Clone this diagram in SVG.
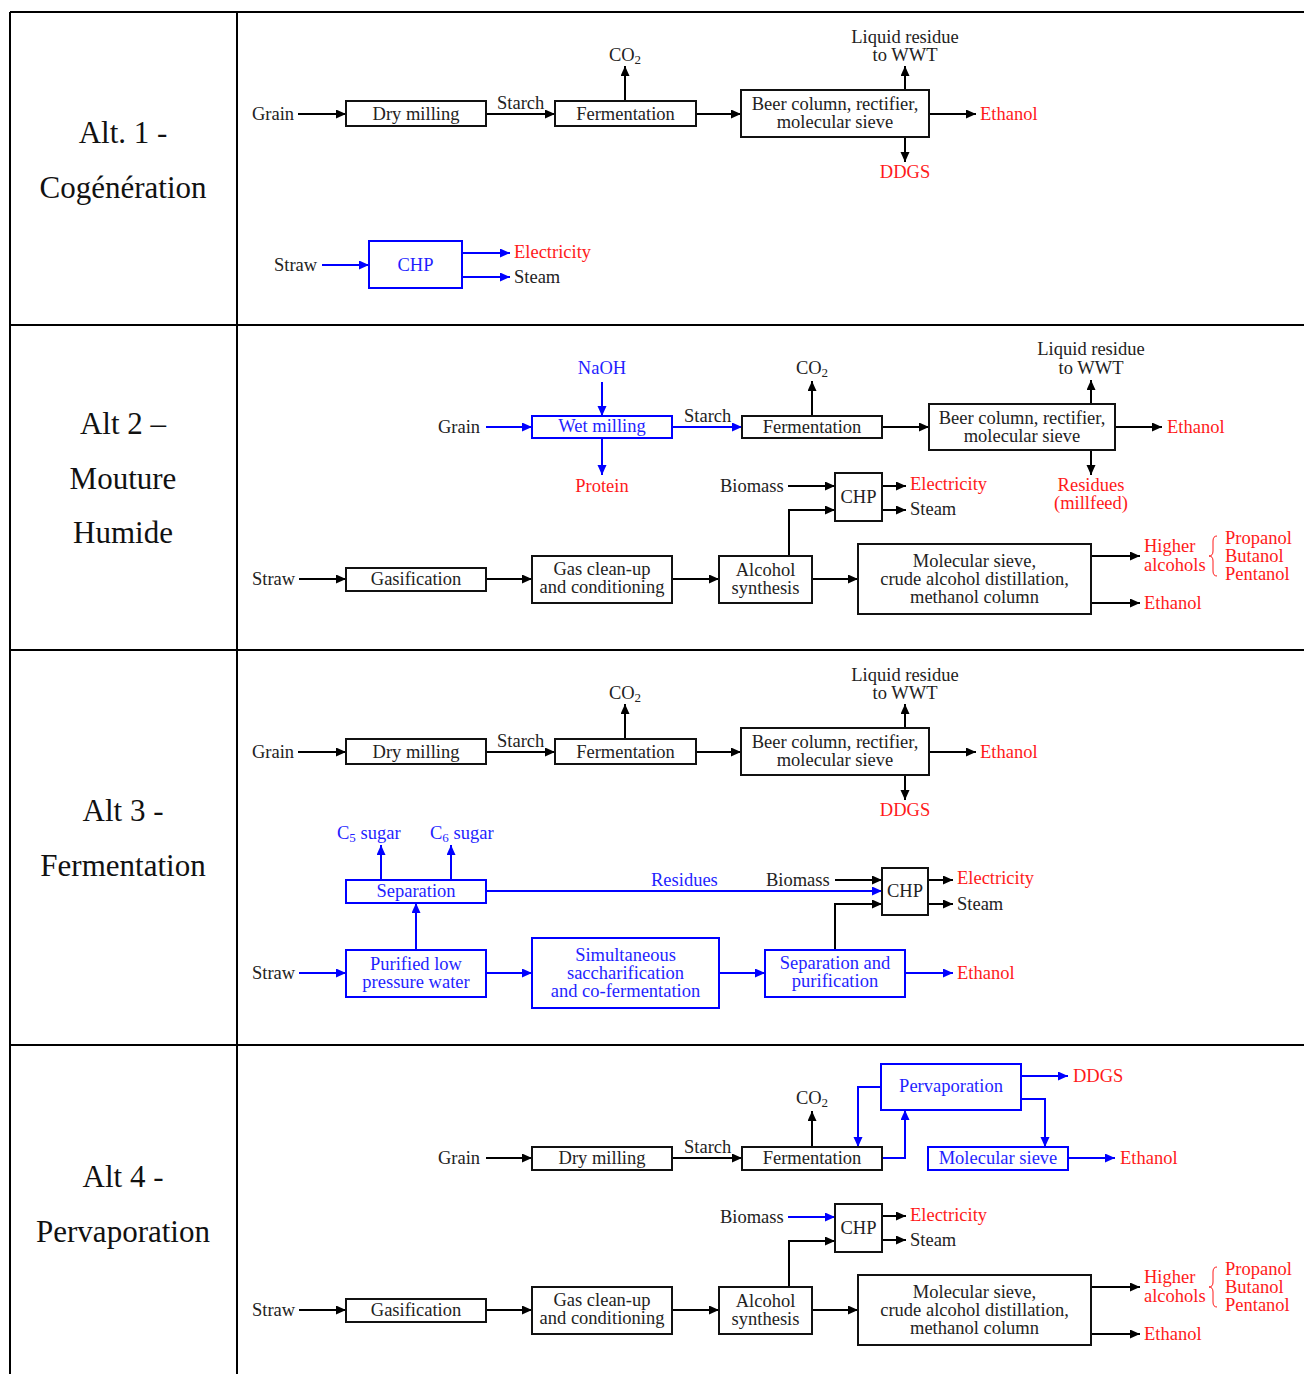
<svg xmlns="http://www.w3.org/2000/svg" width="1304" height="1374" viewBox="0 0 1304 1374">
<style>
.grid{stroke:#000;stroke-width:2;fill:none}
.lbl{font-family:"Liberation Serif","Times New Roman",serif;font-size:31px;fill:#111;text-anchor:middle}
.t{font-family:"Liberation Serif","Times New Roman",serif;font-size:18.5px;fill:#222}
.c{text-anchor:middle}
.tb{fill:#1f1fff}
.tr{fill:#ff1a1a}
.bx{fill:#fff;stroke:#111;stroke-width:2}
.bb{fill:#fff;stroke:#0000ff;stroke-width:2}
.lk{stroke:#000;stroke-width:2;fill:none}
.lb{stroke:#0000ff;stroke-width:2;fill:none}
.brace{stroke:#ff1a1a;stroke-width:1;fill:none}
.sub{font-size:13px}
</style>
<defs>
<marker id="ak" markerUnits="userSpaceOnUse" markerWidth="11" markerHeight="10" refX="10" refY="4.5" orient="auto"><path d="M0,0 L10,4.5 L0,9 z" fill="#000"/></marker>
<marker id="ab" markerUnits="userSpaceOnUse" markerWidth="11" markerHeight="10" refX="10" refY="4.5" orient="auto"><path d="M0,0 L10,4.5 L0,9 z" fill="#0000ff"/></marker>
</defs>
<rect width="1304" height="1374" fill="#fff"/>
<g id="table">
<path class="grid" d="M10,12 H1304 M10,325 H1304 M10,650 H1304 M10,1045 H1304 M10,12 V1374 M237,12 V1374"/>
<text class="lbl" x="123" y="143">Alt. 1 -</text>
<text class="lbl" x="123" y="198">Cogénération</text>
<text class="lbl" x="123" y="434">Alt 2 –</text>
<text class="lbl" x="123" y="489">Mouture</text>
<text class="lbl" x="123" y="543">Humide</text>
<text class="lbl" x="123" y="821">Alt 3 -</text>
<text class="lbl" x="123" y="876">Fermentation</text>
<text class="lbl" x="123" y="1187">Alt 4 -</text>
<text class="lbl" x="123" y="1242">Pervaporation</text>
</g>
<g id="connectors">
<!-- Alt 1 -->
<path class="lk" marker-end="url(#ak)" d="M298,114 H346"/>
<path class="lk" marker-end="url(#ak)" d="M486,114 H555"/>
<path class="lk" marker-end="url(#ak)" d="M625,101 V66"/>
<path class="lk" marker-end="url(#ak)" d="M696,114 H741"/>
<path class="lk" marker-end="url(#ak)" d="M905,90 V66"/>
<path class="lk" marker-end="url(#ak)" d="M929,114 H976"/>
<path class="lk" marker-end="url(#ak)" d="M905,137 V162"/>
<path class="lb" marker-end="url(#ab)" d="M322,265 H369"/>
<path class="lb" marker-end="url(#ab)" d="M462,253 H510"/>
<path class="lb" marker-end="url(#ab)" d="M462,277 H510"/>
<!-- Alt 2 -->
<path class="lb" marker-end="url(#ab)" d="M602,382 V416"/>
<path class="lb" marker-end="url(#ab)" d="M486,427 H532"/>
<path class="lb" marker-end="url(#ab)" d="M602,438 V475"/>
<path class="lb" marker-end="url(#ab)" d="M672,427 H742"/>
<path class="lk" marker-end="url(#ak)" d="M812,416 V381"/>
<path class="lk" marker-end="url(#ak)" d="M882,427 H929"/>
<path class="lk" marker-end="url(#ak)" d="M1091,404 V380"/>
<path class="lk" marker-end="url(#ak)" d="M1115,427 H1162"/>
<path class="lk" marker-end="url(#ak)" d="M1091,450 V475"/>
<path class="lk" marker-end="url(#ak)" d="M788,486 H835"/>
<path class="lk" marker-end="url(#ak)" d="M882,486 H906"/>
<path class="lk" marker-end="url(#ak)" d="M882,510 H906"/>
<path class="lk" marker-end="url(#ak)" d="M789,556 V510 H835"/>
<path class="lk" marker-end="url(#ak)" d="M299,579 H346"/>
<path class="lk" marker-end="url(#ak)" d="M486,579 H532"/>
<path class="lk" marker-end="url(#ak)" d="M672,579 H719"/>
<path class="lk" marker-end="url(#ak)" d="M812,579 H858"/>
<path class="lk" marker-end="url(#ak)" d="M1091,556 H1140"/>
<path class="lk" marker-end="url(#ak)" d="M1091,603 H1140"/>
<!-- Alt 3 -->
<path class="lk" marker-end="url(#ak)" d="M298,752 H346"/>
<path class="lk" marker-end="url(#ak)" d="M486,752 H555"/>
<path class="lk" marker-end="url(#ak)" d="M625,739 V704"/>
<path class="lk" marker-end="url(#ak)" d="M696,752 H741"/>
<path class="lk" marker-end="url(#ak)" d="M905,728 V704"/>
<path class="lk" marker-end="url(#ak)" d="M929,752 H976"/>
<path class="lk" marker-end="url(#ak)" d="M905,775 V800"/>
<path class="lb" marker-end="url(#ab)" d="M381,880 V845"/>
<path class="lb" marker-end="url(#ab)" d="M451,880 V845"/>
<path class="lb" marker-end="url(#ab)" d="M486,891 H882"/>
<path class="lk" marker-end="url(#ak)" d="M835,880 H882"/>
<path class="lk" marker-end="url(#ak)" d="M928,880 H953"/>
<path class="lk" marker-end="url(#ak)" d="M928,904 H953"/>
<path class="lb" marker-end="url(#ab)" d="M416,950 V903"/>
<path class="lb" marker-end="url(#ab)" d="M299,973 H346"/>
<path class="lb" marker-end="url(#ab)" d="M486,973 H532"/>
<path class="lb" marker-end="url(#ab)" d="M719,973 H765"/>
<path class="lk" marker-end="url(#ak)" d="M835,950 V904 H882"/>
<path class="lb" marker-end="url(#ab)" d="M905,973 H953"/>
<!-- Alt 4 -->
<path class="lk" marker-end="url(#ak)" d="M486,1158 H532"/>
<path class="lk" marker-end="url(#ak)" d="M672,1158 H742"/>
<path class="lk" marker-end="url(#ak)" d="M812,1147 V1111"/>
<path class="lb" marker-end="url(#ab)" d="M881,1087 H858 V1147"/>
<path class="lb" marker-end="url(#ab)" d="M882,1158 H905 V1110"/>
<path class="lb" marker-end="url(#ab)" d="M1021,1076 H1068"/>
<path class="lb" marker-end="url(#ab)" d="M1021,1099 H1045 V1147"/>
<path class="lb" marker-end="url(#ab)" d="M1068,1158 H1115"/>
<path class="lb" marker-end="url(#ab)" d="M788,1217 H835"/>
<path class="lk" marker-end="url(#ak)" d="M882,1216 H906"/>
<path class="lk" marker-end="url(#ak)" d="M882,1240 H906"/>
<path class="lk" marker-end="url(#ak)" d="M789,1287 V1241 H835"/>
<path class="lk" marker-end="url(#ak)" d="M299,1310 H346"/>
<path class="lk" marker-end="url(#ak)" d="M486,1310 H532"/>
<path class="lk" marker-end="url(#ak)" d="M672,1310 H719"/>
<path class="lk" marker-end="url(#ak)" d="M812,1310 H858"/>
<path class="lk" marker-end="url(#ak)" d="M1091,1287 H1140"/>
<path class="lk" marker-end="url(#ak)" d="M1091,1334 H1140"/>
</g>
<!-- ===== Alt 1 ===== -->
<g id="a1-grain"><text class="t" x="252" y="120">Grain</text></g>
<g id="a1-drymilling"><rect class="bx" x="346" y="101" width="140" height="25"/><text class="t c" x="416" y="120">Dry milling</text></g>
<g id="a1-starch"><text class="t" x="497" y="109">Starch</text></g>
<g id="a1-fermentation"><rect class="bx" x="555" y="101" width="141" height="25"/><text class="t c" x="625.5" y="120">Fermentation</text></g>
<g id="a1-co2"><text class="t c" x="625" y="61">CO<tspan class="sub" dy="3">2</tspan></text></g>
<g id="a1-beer"><rect class="bx" x="741" y="90" width="188" height="47"/><text class="t c" x="835" y="110">Beer column, rectifier,</text><text class="t c" x="835" y="128">molecular sieve</text></g>
<g id="a1-liquid"><text class="t c" x="905" y="43">Liquid residue</text><text class="t c" x="905" y="61">to WWT</text></g>
<g id="a1-ethanol"><text class="t tr" x="980" y="120">Ethanol</text></g>
<g id="a1-ddgs"><text class="t tr c" x="905" y="178">DDGS</text></g>
<g id="a1-straw"><text class="t" x="274" y="271">Straw</text></g>
<g id="a1-chp"><rect class="bb" x="369" y="241" width="93" height="47"/><text class="t tb c" x="415.5" y="271">CHP</text></g>
<g id="a1-electricity"><text class="t tr" x="514" y="258">Electricity</text></g>
<g id="a1-steam"><text class="t" x="514" y="283">Steam</text></g>
<!-- ===== Alt 2 ===== -->
<g id="a2-naoh"><text class="t tb c" x="602" y="374">NaOH</text></g>
<g id="a2-grain"><text class="t" x="438" y="433">Grain</text></g>
<g id="a2-wetmilling"><rect class="bb" x="532" y="416" width="140" height="22"/><text class="t tb c" x="602" y="432">Wet milling</text></g>
<g id="a2-protein"><text class="t tr c" x="602" y="492">Protein</text></g>
<g id="a2-starch"><text class="t" x="684" y="422">Starch</text></g>
<g id="a2-fermentation"><rect class="bx" x="742" y="416" width="140" height="22"/><text class="t c" x="812" y="433">Fermentation</text></g>
<g id="a2-co2"><text class="t c" x="812" y="374">CO<tspan class="sub" dy="3">2</tspan></text></g>
<g id="a2-beer"><rect class="bx" x="929" y="404" width="186" height="46"/><text class="t c" x="1022" y="424">Beer column, rectifier,</text><text class="t c" x="1022" y="442">molecular sieve</text></g>
<g id="a2-liquid"><text class="t c" x="1091" y="355">Liquid residue</text><text class="t c" x="1091" y="374">to WWT</text></g>
<g id="a2-ethanol1"><text class="t tr" x="1167" y="433">Ethanol</text></g>
<g id="a2-residues"><text class="t tr c" x="1091" y="491">Residues</text><text class="t tr c" x="1091" y="509">(millfeed)</text></g>
<g id="a2-biomass"><text class="t" x="720" y="492">Biomass</text></g>
<g id="a2-chp"><rect class="bx" x="835" y="473" width="47" height="48"/><text class="t c" x="858.5" y="503">CHP</text></g>
<g id="a2-electricity"><text class="t tr" x="910" y="490">Electricity</text></g>
<g id="a2-steam"><text class="t" x="910" y="515">Steam</text></g>
<g id="a2-straw"><text class="t" x="252" y="585">Straw</text></g>
<g id="a2-gasification"><rect class="bx" x="346" y="568" width="140" height="23"/><text class="t c" x="416" y="585">Gasification</text></g>
<g id="a2-gascleanup"><rect class="bx" x="532" y="556" width="140" height="47"/><text class="t c" x="602" y="575">Gas clean-up</text><text class="t c" x="602" y="593">and conditioning</text></g>
<g id="a2-alcohol"><rect class="bx" x="719" y="556" width="93" height="47"/><text class="t c" x="765.5" y="576">Alcohol</text><text class="t c" x="765.5" y="594">synthesis</text></g>
<g id="a2-molsieve"><rect class="bx" x="858" y="544" width="233" height="70"/><text class="t c" x="974.5" y="567">Molecular sieve,</text><text class="t c" x="974.5" y="585">crude alcohol distillation,</text><text class="t c" x="974.5" y="603">methanol column</text></g>
<g id="a2-higher"><text class="t tr" x="1144" y="552">Higher</text><text class="t tr" x="1144" y="571">alcohols</text>
<path class="brace" d="M1217,536 Q1213,536 1213,541 V551 Q1213,556 1209,556 Q1213,556 1213,561 V571 Q1213,576 1217,576"/>
<text class="t tr" x="1225" y="544">Propanol</text><text class="t tr" x="1225" y="562">Butanol</text><text class="t tr" x="1225" y="580">Pentanol</text></g>
<g id="a2-ethanol2"><text class="t tr" x="1144" y="609">Ethanol</text></g>
<!-- ===== Alt 3 ===== -->
<g id="a3-grain"><text class="t" x="252" y="758">Grain</text></g>
<g id="a3-drymilling"><rect class="bx" x="346" y="739" width="140" height="25"/><text class="t c" x="416" y="758">Dry milling</text></g>
<g id="a3-starch"><text class="t" x="497" y="747">Starch</text></g>
<g id="a3-fermentation"><rect class="bx" x="555" y="739" width="141" height="25"/><text class="t c" x="625.5" y="758">Fermentation</text></g>
<g id="a3-co2"><text class="t c" x="625" y="699">CO<tspan class="sub" dy="3">2</tspan></text></g>
<g id="a3-beer"><rect class="bx" x="741" y="728" width="188" height="47"/><text class="t c" x="835" y="748">Beer column, rectifier,</text><text class="t c" x="835" y="766">molecular sieve</text></g>
<g id="a3-liquid"><text class="t c" x="905" y="681">Liquid residue</text><text class="t c" x="905" y="699">to WWT</text></g>
<g id="a3-ethanol1"><text class="t tr" x="980" y="758">Ethanol</text></g>
<g id="a3-ddgs"><text class="t tr c" x="905" y="816">DDGS</text></g>
<g id="a3-c5"><text class="t tb" x="337" y="839">C<tspan class="sub" dy="3">5</tspan><tspan dy="-3"> sugar</tspan></text></g>
<g id="a3-c6"><text class="t tb" x="430" y="839">C<tspan class="sub" dy="3">6</tspan><tspan dy="-3"> sugar</tspan></text></g>
<g id="a3-separation"><rect class="bb" x="346" y="880" width="140" height="23"/><text class="t tb c" x="416" y="897">Separation</text></g>
<g id="a3-residues"><text class="t tb" x="651" y="886">Residues</text></g>
<g id="a3-biomass"><text class="t" x="766" y="886">Biomass</text></g>
<g id="a3-chp"><rect class="bx" x="882" y="868" width="46" height="47"/><text class="t c" x="905" y="897">CHP</text></g>
<g id="a3-electricity"><text class="t tr" x="957" y="884">Electricity</text></g>
<g id="a3-steam"><text class="t" x="957" y="910">Steam</text></g>
<g id="a3-straw"><text class="t" x="252" y="979">Straw</text></g>
<g id="a3-purified"><rect class="bb" x="346" y="950" width="140" height="47"/><text class="t tb c" x="416" y="970">Purified low</text><text class="t tb c" x="416" y="988">pressure water</text></g>
<g id="a3-ssf"><rect class="bb" x="532" y="938" width="187" height="70"/><text class="t tb c" x="625.5" y="961">Simultaneous</text><text class="t tb c" x="625.5" y="979">saccharification</text><text class="t tb c" x="625.5" y="997">and co-fermentation</text></g>
<g id="a3-seppur"><rect class="bb" x="765" y="950" width="140" height="47"/><text class="t tb c" x="835" y="969">Separation and</text><text class="t tb c" x="835" y="987">purification</text></g>
<g id="a3-ethanol2"><text class="t tr" x="957" y="979">Ethanol</text></g>
<!-- ===== Alt 4 ===== -->
<g id="a4-grain"><text class="t" x="438" y="1164">Grain</text></g>
<g id="a4-drymilling"><rect class="bx" x="532" y="1147" width="140" height="23"/><text class="t c" x="602" y="1164">Dry milling</text></g>
<g id="a4-starch"><text class="t" x="684" y="1153">Starch</text></g>
<g id="a4-fermentation"><rect class="bx" x="742" y="1147" width="140" height="23"/><text class="t c" x="812" y="1164">Fermentation</text></g>
<g id="a4-co2"><text class="t c" x="812" y="1104">CO<tspan class="sub" dy="3">2</tspan></text></g>
<g id="a4-pervaporation"><rect class="bb" x="881" y="1064" width="140" height="46"/><text class="t tb c" x="951" y="1092">Pervaporation</text></g>
<g id="a4-ddgs"><text class="t tr" x="1073" y="1082">DDGS</text></g>
<g id="a4-molsieve-small"><rect class="bb" x="928" y="1147" width="140" height="23"/><text class="t tb c" x="998" y="1164">Molecular sieve</text></g>
<g id="a4-ethanol1"><text class="t tr" x="1120" y="1164">Ethanol</text></g>
<g id="a4-biomass"><text class="t" x="720" y="1223">Biomass</text></g>
<g id="a4-chp"><rect class="bx" x="835" y="1204" width="47" height="48"/><text class="t c" x="858.5" y="1234">CHP</text></g>
<g id="a4-electricity"><text class="t tr" x="910" y="1221">Electricity</text></g>
<g id="a4-steam"><text class="t" x="910" y="1246">Steam</text></g>
<g id="a4-straw"><text class="t" x="252" y="1316">Straw</text></g>
<g id="a4-gasification"><rect class="bx" x="346" y="1299" width="140" height="23"/><text class="t c" x="416" y="1316">Gasification</text></g>
<g id="a4-gascleanup"><rect class="bx" x="532" y="1287" width="140" height="47"/><text class="t c" x="602" y="1306">Gas clean-up</text><text class="t c" x="602" y="1324">and conditioning</text></g>
<g id="a4-alcohol"><rect class="bx" x="719" y="1287" width="93" height="47"/><text class="t c" x="765.5" y="1307">Alcohol</text><text class="t c" x="765.5" y="1325">synthesis</text></g>
<g id="a4-molsieve"><rect class="bx" x="858" y="1275" width="233" height="70"/><text class="t c" x="974.5" y="1298">Molecular sieve,</text><text class="t c" x="974.5" y="1316">crude alcohol distillation,</text><text class="t c" x="974.5" y="1334">methanol column</text></g>
<g id="a4-higher"><text class="t tr" x="1144" y="1283">Higher</text><text class="t tr" x="1144" y="1302">alcohols</text>
<path class="brace" d="M1217,1267 Q1213,1267 1213,1272 V1282 Q1213,1287 1209,1287 Q1213,1287 1213,1292 V1302 Q1213,1307 1217,1307"/>
<text class="t tr" x="1225" y="1275">Propanol</text><text class="t tr" x="1225" y="1293">Butanol</text><text class="t tr" x="1225" y="1311">Pentanol</text></g>
<g id="a4-ethanol2"><text class="t tr" x="1144" y="1340">Ethanol</text></g>
</svg>
